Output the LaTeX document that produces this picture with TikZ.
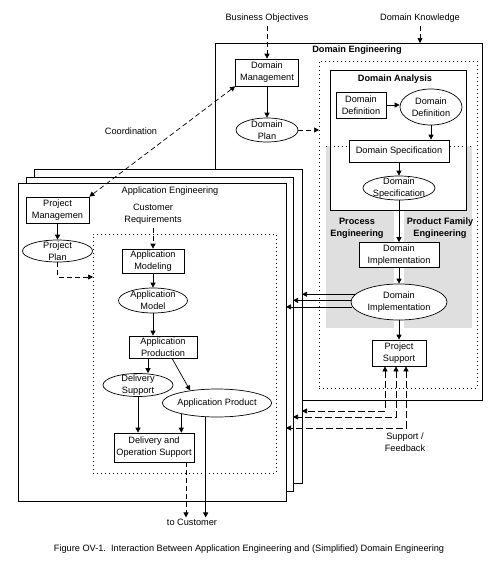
\documentclass[tikz,border=0pt]{standalone}
\usepackage{fontspec}
\setmainfont{Liberation Sans}
\usetikzlibrary{arrows.meta,shapes.geometric}

\tikzset{
  >={Triangle[length=5pt,width=5pt]},
  every node/.style={font=\fontsize{9.2}{12}\selectfont, align=center},
  box/.style={draw, fill=white, rectangle, inner sep=0pt},
  oval/.style={draw, fill=white, ellipse, inner xsep=-1pt, inner ysep=-3pt},
  frame/.style={draw, fill=white, rectangle, inner sep=0pt, outer sep=0pt},
  dots/.style={draw, rectangle, dash pattern=on 1pt off 3pt, inner sep=0pt, outer sep=0pt},
  title/.style={font=\fontsize{9.2}{12}\selectfont\bfseries},
  dline/.style={dash pattern=on 5pt off 3pt},
  longline/.style={dash pattern=on 7pt off 3pt}
}

\begin{document}
\begin{tikzpicture}[x=1pt, y=-1pt, line width=0.7pt]
\useasboundingbox (0,0) rectangle (500,566);
% domain engineering
\node [frame, minimum width=267pt, minimum height=357pt] (domeng) at (348.5,221.5) {};
\node [title] (detitle) at (357,50) {Domain Engineering};
\node [dots, minimum width=158pt, minimum height=327pt] (dedots) at (398,224.5) {};
\fill [gray!25] (326,146) rectangle (394,328);
\fill [gray!25] (404,146) rectangle (472,328);
\node [frame, minimum width=136pt, minimum height=140pt] (danalysis) at (398,140) {};
\node [title] (datitle) at (395,79) {Domain Analysis};
\draw [dash pattern=on 1pt off 3pt] (326,146) -- (472,146);
\node [box, minimum width=50pt, minimum height=26pt] (ddefbox) at (361,105) {Domain\\Definition};
\node [oval, minimum width=62pt, minimum height=36pt] (ddefoval) at (431,107) {Domain\\Definition};
\node [box, minimum width=100pt, minimum height=22pt] (dspecbox) at (399,151) {Domain Specification};
\node [oval, minimum width=72pt, minimum height=24pt] (dspecoval) at (399,188) {Domain\\Specification};
\node [title] (proceng) at (357,228) {Process\\Engineering};
\node [title] (prodeng) at (440,228) {Product Family\\Engineering};
\node [box, minimum width=80pt, minimum height=25pt] (dimplbox) at (399,255) {Domain\\Implementation};
\node [oval, minimum width=96pt, minimum height=36pt] (dimploval) at (399,302) {Domain\\Implementation};
\node [box, minimum width=54pt, minimum height=26pt] (psupport) at (399,353) {Project\\Support};
\node [box, minimum width=63pt, minimum height=27pt] (dmgmt) at (267,72.5) {Domain\\Management};
\node [oval, minimum width=62pt, minimum height=24pt] (dplan) at (267,130) {Domain\\Plan};
\node (bizobj) at (267,18) {Business Objectives};
\node (domknow) at (420,18) {Domain Knowledge};
\draw [dline, ->] (bizobj) -- (dmgmt);
\draw [dline, ->] (domknow) -- (domknow |- domeng.north);
\draw [->] (dmgmt) -- (dplan);
\draw [dline, ->] (dplan) -- (dplan -| dedots.west);
\draw [->] (ddefbox.east) -- (ddefbox.east -| ddefoval.west);
\draw [->] (ddefoval) -- (ddefoval |- dspecbox.north);
\draw [->] (dspecbox) -- (dspecoval);
\draw [->] (dspecoval) -- (dimplbox);
\draw [->] (dimplbox) -- (dimploval);
\draw [->] (dimploval) -- (psupport);
% application engineering
\node [frame, minimum width=268pt, minimum height=314pt] (appback) at (168,326) {};
\node [frame, minimum width=267pt, minimum height=314pt] (appmid) at (159.5,334) {};
\node [frame, minimum width=268pt, minimum height=318pt] (appfront) at (152,342) {};
\node (apptitle) at (170,191) {Application Engineering};
\node [box, minimum width=63pt, minimum height=26pt] (pmgmt) at (57.5,210) {Project\\Managemen};
\node [oval, minimum width=70pt, minimum height=22pt] (pplan) at (57.5,251) {Project\\Plan};
\node (custreq) at (153,214) {Customer\\Requirements};
\node [dots, minimum width=183pt, minimum height=239pt] (appdots) at (184.5,353.5) {};
\node [box, minimum width=62pt, minimum height=24pt] (amodeling) at (153,261) {Application\\Modeling};
\node [oval, minimum width=69pt, minimum height=25pt] (amodel) at (153,300.5) {Application\\Model};
\node [box, minimum width=68pt, minimum height=22pt] (aprod) at (163,347) {Application\\Production};
\node [oval, minimum width=70pt, minimum height=23pt] (dsupport) at (138,385) {Delivery\\Support};
\node [oval, minimum width=105pt, minimum height=28pt] (aproduct) at (217,403) {Application Product};
\node [box, minimum width=80pt, minimum height=29pt] (dos) at (154,447.5) {Delivery and\\Operation Support};
\node [inner sep=1pt] (tocust) at (192,522) {to Customer};
\draw [->] (pmgmt) -- (pplan);
\draw [dline, ->] (pplan.south) |- ([yshift=76.5pt]appdots.west);
\draw [dline, ->] (custreq) -- (amodeling);
\draw [->] (amodeling) -- (amodel);
\draw [->] (amodel) -- (amodel |- aprod.north);
\draw [->] ([xshift=-15pt]aprod.south) -- ([xshift=-15pt]aprod.south |- dsupport.north);
\draw [->] ([xshift=9pt]aprod.south) -- (aproduct.155);
\draw [->] (dsupport) -- (dsupport |- dos.north);
\draw [->] (aproduct.197) -- (aproduct.197 |- dos.north);
\draw [->] (aproduct.231) -- (aproduct.231 |- tocust.north);
\draw [dline, ->] ([xshift=32pt]dos.south) -- ([xshift=32pt]dos.south |- tocust.north);
% between the two
\node (coord) at (131,131) {Coordination};
\draw [dline, <->] (dmgmt.south west) -- (pmgmt.north east);
\draw [->] (dimploval.170) -- (dimploval.170 -| appback.east);
\draw [->] (dimploval.178) -- (dimploval.178 -| appmid.east);
\draw [->] (dimploval.186) -- (dimploval.186 -| appfront.east);
\coordinate (fb1) at (0,411);
\coordinate (fb2) at (0,417);
\coordinate (fb3) at (0,428);
\draw [longline, <->] ([xshift=-14pt]psupport.south) |- (fb1 -| appback.east);
\draw [longline, <->] ([xshift=-3pt]psupport.south) |- (fb2 -| appmid.east);
\draw [longline, <->] ([xshift=7pt]psupport.south) |- (fb3 -| appfront.east);
\node (feedback) at (405,442) {Support /\\Feedback};
\node (caption) at (249,549) {Figure OV-1.\ \ Interaction Between Application Engineering and (Simplified) Domain Engineering};
\end{tikzpicture}
\end{document}
